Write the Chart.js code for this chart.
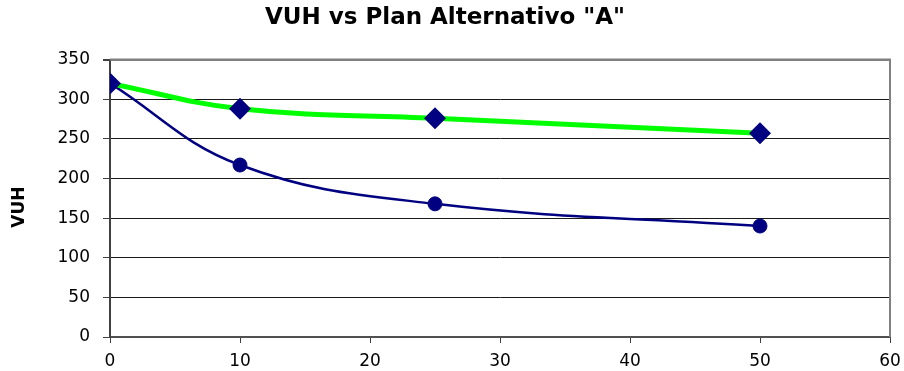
<!DOCTYPE html>
<html>
<head>
<meta charset="utf-8">
<script src="https://cdn.jsdelivr.net/npm/chart.js@4/dist/chart.umd.min.js"></script>
<style>
  html, body { margin: 0; padding: 0; background: #ffffff; }
  #wrap { width: 904px; height: 371px; position: relative; }
</style>
</head>
<body>
<div id="wrap"><canvas id="c" width="904" height="371"></canvas></div>
<script>
// X positions (plan years) and VUH values for each series
const xValues = [0, 10, 25, 50];
const vuhGreen = [320, 288, 276, 257];
const vuhBlue = [320, 217, 168, 140];

const xTicks = [0, 10, 20, 30, 40, 50, 60];
const yTicks = [0, 50, 100, 150, 200, 250, 300, 350];

const titleText = 'VUH vs Plan Alternativo "A"';
// trailing spaces nudge the rotated axis title slightly downwards
const yTitleText = 'VUH   ';

const NAVY = '#000080';
const GREEN = '#00ff00';
const FONT = '"DejaVu Sans", Verdana, sans-serif';

function toPoints(xs, ys) {
  return xs.map((x, i) => ({ x: x, y: ys[i] }));
}

// Gray frame round the plot area, drawn under the series
const plotFrame = {
  id: 'plotFrame',
  beforeDatasetsDraw(chart) {
    const a = chart.chartArea;
    const ctx = chart.ctx;
    ctx.save();
    ctx.strokeStyle = '#808080';
    ctx.lineWidth = 2;
    ctx.beginPath();
    ctx.moveTo(a.left, a.top);
    ctx.lineTo(a.right, a.top);
    ctx.lineTo(a.right, a.bottom);
    ctx.stroke();
    ctx.restore();
  }
};

new Chart(document.getElementById('c'), {
  type: 'scatter',
  data: {
    datasets: [
      {
        label: 'Serie 1',
        data: toPoints(xValues, vuhGreen),
        showLine: true,
        borderColor: GREEN,
        borderWidth: 5,
        tension: 0.4,
        pointStyle: 'rectRot',
        pointRadius: 11,
        pointBackgroundColor: NAVY,
        pointBorderColor: NAVY,
        pointBorderWidth: 0,
        order: 0
      },
      {
        label: 'Serie 2',
        data: toPoints(xValues, vuhBlue),
        showLine: true,
        borderColor: NAVY,
        borderWidth: 2.5,
        tension: 0.4,
        pointStyle: 'circle',
        pointRadius: 7,
        pointBackgroundColor: NAVY,
        pointBorderColor: NAVY,
        pointBorderWidth: 1,
        order: 1
      }
    ]
  },
  options: {
    responsive: false,
    animation: false,
    devicePixelRatio: 1,
    layout: { padding: { left: 0, right: 14, top: 0, bottom: 0 } },
    plugins: {
      legend: { display: false },
      tooltip: { enabled: false },
      title: {
        display: true,
        text: titleText,
        color: '#000000',
        font: { family: FONT, size: 23, weight: 'bold' },
        padding: { top: 4, bottom: 28 }
      }
    },
    scales: {
      x: {
        type: 'linear',
        min: 0,
        max: 60,
        afterBuildTicks(scale) { scale.ticks = xTicks.map(v => ({ value: v })); },
        afterFit(scale) {
          scale.height = 34;
          // the last label may overhang into the right margin
          scale.paddingRight = 0;
        },
        grid: {
          drawOnChartArea: false,
          drawTicks: true,
          tickLength: 6,
          tickColor: '#404040'
        },
        border: { display: true, color: '#505050', width: 2 },
        ticks: {
          color: '#000000',
          padding: 8,
          maxRotation: 0,
          font: { family: FONT, size: 17 }
        }
      },
      y: {
        type: 'linear',
        min: 0,
        max: 350,
        afterBuildTicks(scale) { scale.ticks = yTicks.map(v => ({ value: v })); },
        afterFit(scale) { scale.width = 110; },
        grid: {
          drawOnChartArea: true,
          drawTicks: true,
          tickLength: 7,
          color: (ctx) => (ctx.tick && ctx.tick.value === 350) ? '#808080' : '#1a1a1a',
          lineWidth: (ctx) => (ctx.tick && ctx.tick.value === 350) ? 2 : 1,
          tickColor: '#404040'
        },
        border: { display: true, color: '#404040', width: 2 },
        title: {
          display: true,
          text: yTitleText,
          color: '#000000',
          font: { family: FONT, size: 17, weight: 'bold' },
          padding: { top: 9, bottom: 0 }
        },
        ticks: {
          color: '#000000',
          padding: 13,
          font: { family: FONT, size: 17 }
        }
      }
    }
  },
  plugins: [plotFrame]
});
</script>
</body>
</html>
